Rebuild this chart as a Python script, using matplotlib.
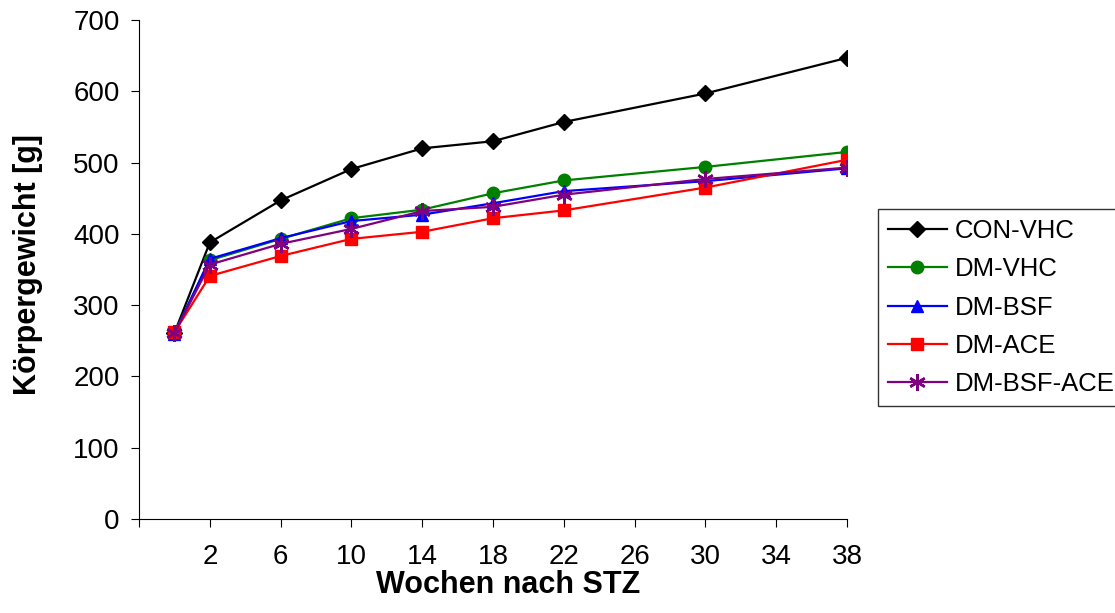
import matplotlib
matplotlib.use("Agg")
import matplotlib.pyplot as plt
import numpy as np

plt.rcParams["font.family"] = ["Liberation Sans", "DejaVu Sans"]

weeks = [0, 2, 6, 10, 14, 18, 22, 30, 38]
con_vhc = [261, 388, 447, 491, 520, 530, 557, 597, 647]
dm_vhc = [261, 363, 393, 422, 434, 457, 475, 494, 515]
dm_bsf = [260, 365, 394, 418, 427, 443, 460, 474, 492]
dm_ace = [262, 341, 369, 393, 403, 422, 433, 465, 504]
dm_bsf_ace = [261, 357, 386, 407, 432, 438, 455, 477, 493]

series = [
    ("CON-VHC", con_vhc, "black", "D", 8),
    ("DM-VHC", dm_vhc, "green", "o", 9),
    ("DM-BSF", dm_bsf, "blue", "^", 9),
    ("DM-ACE", dm_ace, "red", "s", 8),
    ("DM-BSF-ACE", dm_bsf_ace, "purple", (6, 2, 0), 12),
]

fig = plt.figure(figsize=(11.15, 6.13), dpi=100)
ax = fig.add_axes([0.1247, 0.1533, 0.635, 0.814])

for name, vals, color, marker, ms in series:
    ax.plot(weeks, vals, color=color, marker=marker, markersize=ms,
            linewidth=1.6, label=name,
            markeredgewidth=1.8 if marker == (6, 2, 0) else 1)

ax.set_xlim(-2, 38)
ax.set_ylim(0, 700)
xt = np.arange(-2, 39, 4)
ax.set_xticks(xt)
ax.set_xticklabels(["" if t < 0 else str(t) for t in xt])
ax.set_yticks(range(0, 701, 100))
ax.tick_params(axis="both", labelsize=20, direction="out", length=6)
ax.tick_params(axis="x", pad=12)
ax.tick_params(axis="y", pad=8)
ax.spines["top"].set_visible(False)
ax.spines["right"].set_visible(False)

ax.set_xlabel("Wochen nach STZ", fontsize=22, fontweight="bold")
ax.set_ylabel("Körpergewicht [g]", fontsize=22, fontweight="bold")
ax.xaxis.set_label_coords(0.521, -0.102)
ax.yaxis.set_label_coords(-0.135, 0.51)

leg = fig.legend(loc="upper left", bbox_to_anchor=(0.787, 0.659), fontsize=18.5,
                 frameon=True, fancybox=False, edgecolor="black",
                 handlelength=2.3, handletextpad=0.3, borderpad=0.4,
                 labelspacing=0.55, borderaxespad=0)
leg.get_frame().set_linewidth(1)

fig.savefig("out.png", dpi=100)
